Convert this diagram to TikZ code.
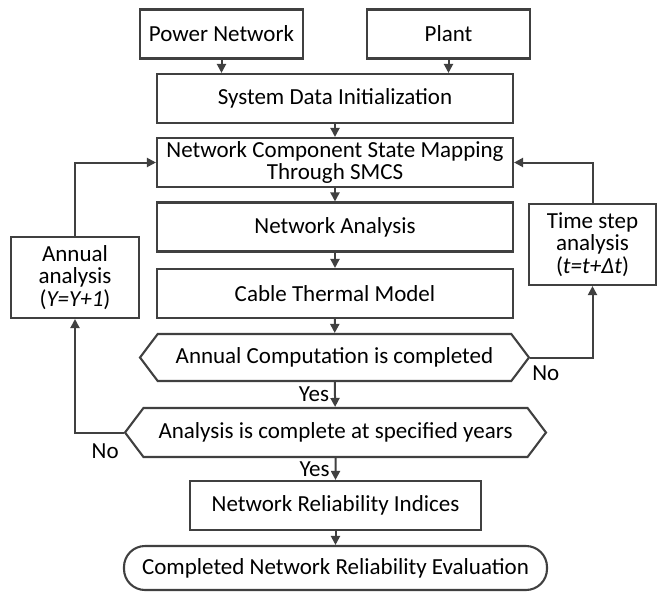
\documentclass[tikz,border=0pt]{standalone}
\usepackage{fontspec}
\setmainfont{Carlito}
\usetikzlibrary{arrows.meta,shapes.symbols,positioning}
\definecolor{linegray}{HTML}{404040}

\begin{document}
\begin{tikzpicture}[x = 1pt, y = -1pt,
every node/.style = {font=\fontsize{23}{22.5}\selectfont},
box/.style = {draw=linegray, line width=2.1pt, align=center, inner sep=2pt},
decision/.style = {draw=linegray, line width=2.1pt, shape=signal,
  signal to=east and west, signal pointer angle=106, inner sep=2pt},
terminal/.style = {draw=linegray, line width=2.1pt, rounded corners=21pt},
flow/.style = {draw=linegray, line width=2pt, -{Triangle[length=9pt,width=9pt]}},
lbl/.style = {inner sep=1pt, fill=white}]
\useasboundingbox (0,0) rectangle (657,592);

\node[box, minimum width=163, minimum height=49] (power) at (221.5,34) {Power Network};
\node[box, minimum width=163, minimum height=49] (plant) at (448.5,34) {Plant};
\node[box, minimum width=356, minimum height=49] (init) at (335,98.5) {System Data Initialization};
\node[box, minimum width=356, minimum height=49] (mapping) at (335,162.5) {Network Component State Mapping\\Through SMCS};
\node[box, minimum width=356, minimum height=49] (netan) at (335,227) {Network Analysis};
\node[box, minimum width=356, minimum height=49] (thermal) at (335,293.5) {Cable Thermal Model};
\node[decision, minimum width=389, minimum height=47] (annualdone) at (334.5,357.5) {Annual Computation is completed};
\node[decision, minimum width=421, minimum height=49] (yearsdone) at (335.5,432.5) {Analysis is complete at specified years};
\node[box, minimum width=291, minimum height=49] (indices) at (335.5,505.5) {Network Reliability Indices};
\node[terminal, minimum width=423, minimum height=44] (finish) at (335.5,568) {Completed Network Reliability Evaluation};

\node[box, minimum width=128, minimum height=81] (annual) at (75,277.5) {Annual\\analysis\\(\textit{Y=Y+1})};
\node[box, minimum width=127, minimum height=81] (timestep) at (592.5,244.5) {Time step\\analysis\\(\textit{t=t+Δt})};

\draw[flow] (power.south) -- (power.south |- init.north);
\draw[flow] (plant.south) -- (plant.south |- init.north);
\draw[flow] (init) -- (mapping);
\draw[flow] (mapping) -- (netan);
\draw[flow] (netan) -- (thermal);
\draw[flow] (thermal) -- (annualdone);
\draw[flow] (annualdone) -- node[lbl, left=4pt] {Yes} (yearsdone);
\draw[flow] (yearsdone) -- node[lbl, left=4pt] {Yes} (indices);
\draw[flow] (indices) -- (finish);

\draw[flow] (annualdone.east) -| node[at start, below right=7pt and 1pt, inner sep=0pt] {No} (timestep.south);
\draw[flow] (timestep.north) |- (mapping.east);
\draw[flow] (yearsdone.west) -| node[at start, below left=10pt and 4pt, inner sep=0pt] {No} (annual.south);
\draw[flow] (annual.north) |- (mapping.west);
\end{tikzpicture}
\end{document}
